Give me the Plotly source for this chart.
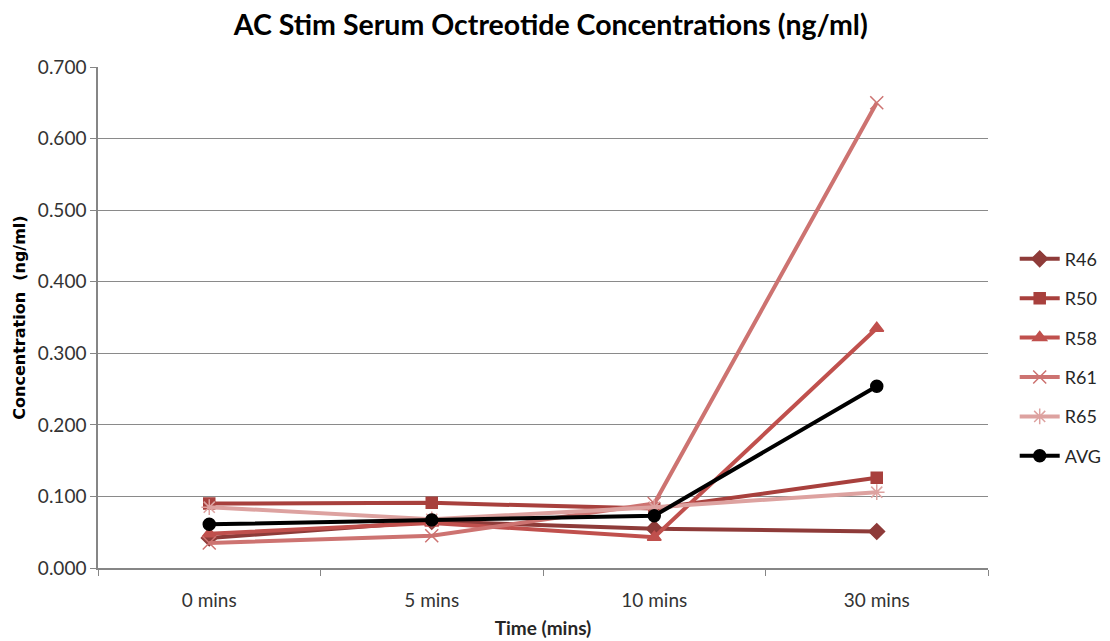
import plotly.graph_objects as go

categories = ["0 mins", "5 mins", "10 mins", "30 mins"]
r46 = [0.042, 0.065, 0.055, 0.051]
r50 = [0.090, 0.091, 0.083, 0.126]
r58 = [0.048, 0.063, 0.043, 0.335]
r61 = [0.035, 0.045, 0.090, 0.650]
r65 = [0.085, 0.068, 0.085, 0.106]
avg = [0.061, 0.067, 0.073, 0.254]
y_ticks = [0.0, 0.1, 0.2, 0.3, 0.4, 0.5, 0.6, 0.7]

series = [
    ("R46", r46, "#8E3B39", "diamond", 12),
    ("R50", r50, "#A8403D", "square", 11),
    ("R58", r58, "#C0504D", "triangle-up", 12),
    ("R61", r61, "#CD7371", "x-thin", 13),
    ("R65", r65, "#DDA2A0", "asterisk-open", 13),
    ("AVG", avg, "#000000", "circle", 12),
]

fig = go.Figure()
for name, vals, color, sym, size in series:
    fig.add_trace(go.Scatter(
        x=categories, y=vals, name=name, mode="lines+markers",
        legendgroup=name,
        line=dict(color=color, width=4),
        marker=dict(symbol=sym, size=size, color=color,
                    line=dict(color=color, width=1.5)),
    ))

fig.update_layout(
    width=1110, height=641,
    paper_bgcolor="white", plot_bgcolor="white",
    margin=dict(l=90, r=130, t=59, b=81, autoexpand=False),
    font=dict(family="Lato, Open Sans, sans-serif", color="#333333", size=18),
    title=dict(text="<b>AC Stim Serum Octreotide Concentrations (ng/ml)</b>",
               x=0.489, xanchor="center", y=0.9735, yanchor="middle",
               font=dict(size=28.5, color="#000000")),
    showlegend=True,
    legend=dict(x=1.030, xanchor="left", y=0.42, yanchor="middle",
                tracegroupgap=13, itemwidth=40,
                font=dict(size=18, color="#262626"),
                bgcolor="rgba(0,0,0,0)"),
    xaxis=dict(
        type="category", categoryorder="array", categoryarray=categories,
        range=[-0.5, 3.5],
        tickson="boundaries", ticks="outside", ticklen=6, tickcolor="#868686",
        showline=True, linecolor="#868686", linewidth=1.5,
        showgrid=False, ticklabelstandoff=14,
        title=dict(text="<b>Time (mins)</b>", font=dict(size=19, color="#262626"), standoff=12),
        tickfont=dict(size=19),
    ),
    yaxis=dict(
        range=[0, 0.7], tickvals=y_ticks, tickformat=".3f",
        ticks="outside", ticklen=6, tickcolor="#868686",
        showline=True, linecolor="#868686", linewidth=1.5,
        showgrid=True, gridcolor="#8A8A8A", gridwidth=1,
        zeroline=False,
        title=dict(text="<b>Concentration  (ng/ml)</b>",
                   font=dict(size=16, color="#000000", family="DejaVu Sans"), standoff=8),
        tickfont=dict(size=19),
    ),
)

fig.write_html("out.html")
